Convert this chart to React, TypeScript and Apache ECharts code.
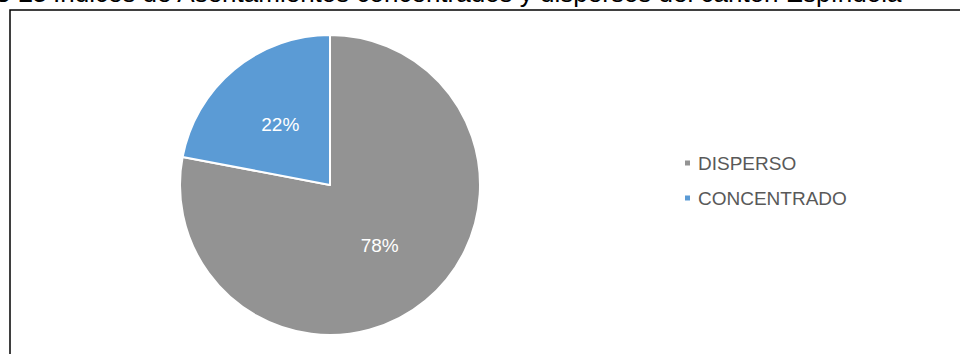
import React, { useEffect, useRef } from "react";
import * as echarts from "echarts";

const categories = ["DISPERSO", "CONCENTRADO"];
const shares = [78, 22];
const sliceColors = ["#939393", "#5B9BD5"];
const titleBold = "Gráfico 15";
const titleText = "Índices de Asentamientos concentrados y dispersos del cantón Espíndola";

export default function App() {
  const ref = useRef<HTMLDivElement>(null);
  useEffect(() => {
    if (!ref.current) return;
    const chart = echarts.init(ref.current, null, { renderer: "svg" });
    const font = "'Liberation Sans', Arial, sans-serif";
    chart.setOption({
      animation: false,
      backgroundColor: "#ffffff",
      textStyle: { fontFamily: font },
      graphic: [
        {
          type: "rect",
          shape: { x: 10, y: 10, width: 970, height: 400 },
          style: { fill: "none", stroke: "#000000", lineWidth: 1.5 },
          silent: true,
        },
        {
          type: "text",
          x: 47,
          y: 6,
          style: {
            text: titleBold,
            fontFamily: font,
            fontSize: 26,
            fontWeight: "bold",
            fill: "#000000",
            textAlign: "right",
            textVerticalAlign: "bottom",
          },
        },
        {
          type: "text",
          x: 53,
          y: 6,
          style: {
            text: titleText,
            fontFamily: font,
            fontSize: 26,
            fill: "#000000",
            textAlign: "left",
            textVerticalAlign: "bottom",
          },
        },
      ],
      legend: {
        orient: "vertical",
        left: 683,
        top: 153,
        padding: 0,
        icon: "rect",
        itemWidth: 7,
        itemHeight: 7,
        itemGap: 15,
        textStyle: {
          color: "#595959",
          fontSize: 19,
          fontFamily: font,
          lineHeight: 20,
          padding: [0, 0, 0, 2],
        },
        data: categories,
      },
      series: [
        {
          type: "pie",
          center: [330, 185],
          radius: [0, 150],
          startAngle: 90,
          clockwise: true,
          itemStyle: { borderColor: "#ffffff", borderWidth: 2 },
          label: {
            show: true,
            position: "inside",
            formatter: "{c}%",
            color: "#ffffff",
            fontSize: 19,
            fontFamily: font,
          },
          labelLine: { show: false },
          emphasis: { disabled: true },
          data: categories.map((name, i) => ({
            name,
            value: shares[i],
            itemStyle: { color: sliceColors[i] },
          })),
        },
      ],
    });
    return () => chart.dispose();
  }, []);
  return (
    <div
      ref={ref}
      style={{ position: "fixed", left: 0, top: 0, width: 960, height: 354 }}
    />
  );
}
